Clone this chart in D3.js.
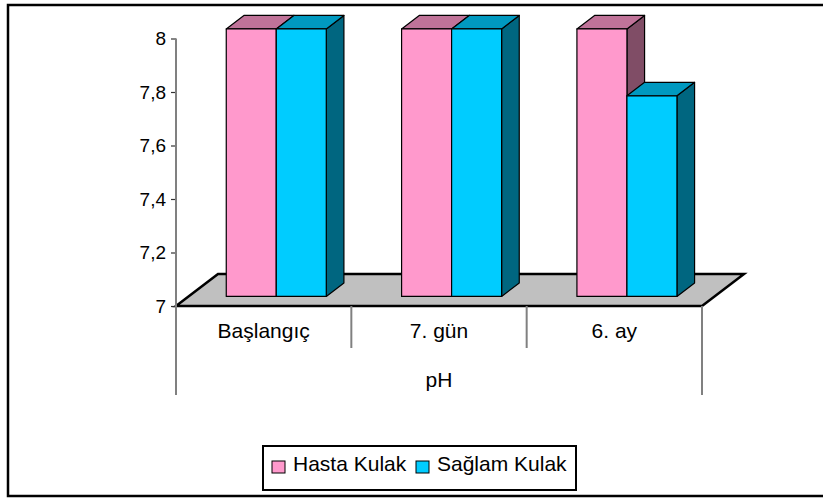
<!DOCTYPE html>
<html>
<head>
<meta charset="utf-8">
<script src="https://cdn.jsdelivr.net/npm/d3@7"></script>
<style>
  html, body { margin: 0; padding: 0; background: #fff; }
  svg { display: block; font-family: "Liberation Sans", Arial, sans-serif; }
</style>
</head>
<body>
<svg id="chart" width="823" height="499"></svg>
<script>
// pH values for the two ears at each time point
const categories = ["Başlangıç", "7. gün", "6. ay"];
const seriesNames = ["Hasta Kulak", "Sağlam Kulak"];
const hastaKulak = [8, 8, 8];
const saglamKulak = [8, 8, 7.75];
const yTicks = [7, 7.2, 7.4, 7.6, 7.8, 8];
const groupLabel = "pH";

const seriesValues = [hastaKulak, saglamKulak];
const faceColors = [
  { front: "#FF99CC", top: "#C07399", side: "#804D66" },
  { front: "#00CCFF", top: "#0099C0", side: "#006680" }
];

const svg = d3.select("#chart");

// outer chart border
svg.append("rect")
  .attr("x", 8).attr("y", 5).attr("width", 840).attr("height", 491)
  .attr("fill", "none").attr("stroke", "#000").attr("stroke-width", 2.5);

const x = d3.scaleBand(categories, [176, 702]).padding(0);
const y = d3.scaleLinear([7, 8], [306, 38.5]);
const sub = d3.scaleBand(seriesNames, [0, x.bandwidth()]).paddingInner(0).paddingOuter(0.753);

// depth of the floor and the slice of it the bars occupy
const depth = { dx: 42, dy: -32 };
const t0 = 0.3, t1 = 0.72;
const fdx = depth.dx * t0, fdy = depth.dy * t0;
const bdx = depth.dx * (t1 - t0), bdy = depth.dy * (t1 - t0);

// floor
const x0 = x.range()[0], x1 = x.range()[1], yb = y(7);
svg.append("polygon")
  .attr("points", [[x0, yb], [x1, yb], [x1 + depth.dx, yb + depth.dy], [x0 + depth.dx, yb + depth.dy]].map(p => p.join(",")).join(" "))
  .attr("fill", "#C0C0C0").attr("stroke", "#000").attr("stroke-width", 2.5).attr("stroke-linejoin", "miter");

// bars
categories.forEach((cat, ci) => {
  seriesNames.forEach((s, si) => {
    const v = seriesValues[si][ci];
    const c = faceColors[si];
    const left = x(cat) + sub(s) + fdx;
    const right = left + sub.bandwidth();
    const top = y(v) + fdy;
    const bottom = y(7) + fdy;
    const g = svg.append("g").attr("stroke", "#000").attr("stroke-width", 1.2).attr("stroke-linejoin", "round");
    g.append("polygon")
      .attr("points", [[right, top], [right + bdx, top + bdy], [right + bdx, bottom + bdy], [right, bottom]].map(p => p.join(",")).join(" "))
      .attr("fill", c.side);
    g.append("polygon")
      .attr("points", [[left, top], [right, top], [right + bdx, top + bdy], [left + bdx, top + bdy]].map(p => p.join(",")).join(" "))
      .attr("fill", c.top);
    g.append("rect")
      .attr("x", left).attr("y", top).attr("width", right - left).attr("height", bottom - top)
      .attr("fill", c.front);
  });
});

// value axis
const yAxis = svg.append("g")
  .attr("transform", `translate(${x0},0)`)
  .call(d3.axisLeft(y).tickValues(yTicks).tickSize(5).tickPadding(5)
    .tickFormat(d => d3.format("~g")(d).replace(".", ",")));
yAxis.select(".domain").remove();
yAxis.selectAll(".tick line").attr("stroke", "#333").attr("stroke-width", 1.2);
yAxis.selectAll(".tick text").attr("font-size", 19).attr("fill", "#000")
  .attr("font-family", "'Liberation Sans', Arial, sans-serif");
svg.append("line")
  .attr("x1", x0).attr("x2", x0).attr("y1", y(8)).attr("y2", 395)
  .attr("stroke", "#808080").attr("stroke-width", 2);

// category dividers below the floor
categories.slice(1).forEach(cat => {
  svg.append("line")
    .attr("x1", x(cat)).attr("x2", x(cat)).attr("y1", yb).attr("y2", 348)
    .attr("stroke", "#808080").attr("stroke-width", 2);
});
svg.append("line")
  .attr("x1", x1).attr("x2", x1).attr("y1", yb).attr("y2", 395)
  .attr("stroke", "#808080").attr("stroke-width", 2);

// category labels
svg.append("g").selectAll("text").data(categories).join("text")
  .attr("x", d => x(d) + x.bandwidth() / 2)
  .attr("y", 338)
  .attr("text-anchor", "middle")
  .attr("font-size", 21)
  .text(d => d);

svg.append("text")
  .attr("x", (x0 + x1) / 2).attr("y", 387)
  .attr("text-anchor", "middle").attr("font-size", 21)
  .text(groupLabel);

// legend
const legend = svg.append("g");
legend.append("rect")
  .attr("x", 263).attr("y", 446).attr("width", 313).attr("height", 44)
  .attr("fill", "#fff").attr("stroke", "#000").attr("stroke-width", 2);
const legendX = [272, 416];
seriesNames.forEach((s, i) => {
  legend.append("rect")
    .attr("x", legendX[i]).attr("y", 461).attr("width", 13).attr("height", 12)
    .attr("fill", faceColors[i].front).attr("stroke", "#000").attr("stroke-width", 1);
  legend.append("text")
    .attr("x", legendX[i] + 21).attr("y", 471)
    .attr("font-size", 21)
    .text(s);
});
</script>
</body>
</html>
